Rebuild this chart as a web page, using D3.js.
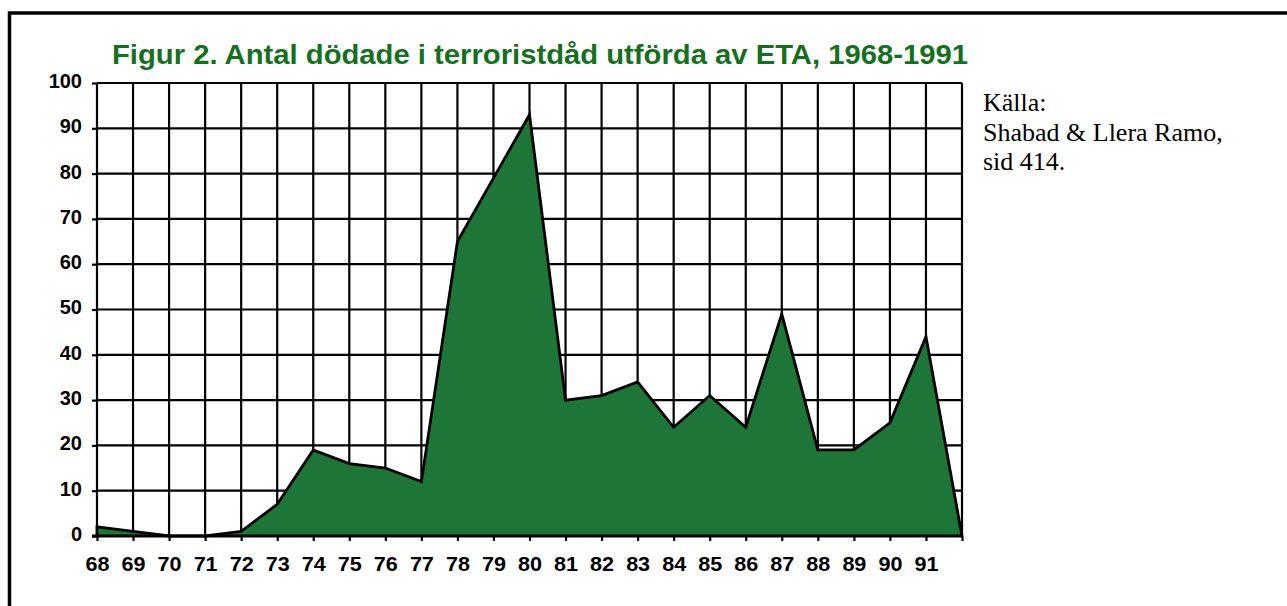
<!DOCTYPE html>
<html><head><meta charset="utf-8">
<script src="https://cdn.jsdelivr.net/npm/d3@7"></script>
<style>body{margin:0;background:#fff;} svg{display:block;}</style>
</head><body>
<svg id="c" width="1287" height="606"></svg>
<script>
const years = [68,69,70,71,72,73,74,75,76,77,78,79,80,81,82,83,84,85,86,87,88,89,90,91,92];
const deaths = [2,1,0,0,1,7,19,16,15,12,65,79,93,30,31,34,24,31,24,49,19,19,25,44,0];
const xTickLabels = ["68","69","70","71","72","73","74","75","76","77","78","79","80","81","82","83","84","85","86","87","88","89","90","91"];
const yTicks = [0,10,20,30,40,50,60,70,80,90,100];
const title = "Figur 2. Antal dödade i terroristdåd utförda av ETA, 1968-1991";
const sourceLines = ["Källa:", "Shabad & Llera Ramo,", "sid 414."];

const svg = d3.select("#c");
const x = d3.scaleLinear().domain([68,92]).range([97,962]);
const y = d3.scaleLinear().domain([0,100]).range([536,83]);
const sans = "Arial, 'Liberation Sans', sans-serif";

// frame
svg.append("path").attr("d","M9.5,606 V13 H1287").attr("fill","none").attr("stroke","#000").attr("stroke-width",3.5);

// grid
const g = svg.append("g");
g.selectAll(".hg").data(yTicks.slice(1)).join("line")
  .attr("x1",x(68)).attr("x2",x(92)).attr("y1",d=>y(d)).attr("y2",d=>y(d))
  .attr("stroke","#000").attr("stroke-width",2.2);
g.selectAll(".vg").data(years).join("line")
  .attr("x1",d=>x(d)).attr("x2",d=>x(d)).attr("y1",y(0)).attr("y2",y(100))
  .attr("stroke","#000").attr("stroke-width",2.2);

// area
const area = d3.area().x((d,i)=>x(years[i])).y0(y(0)).y1(d=>y(d));
const line = d3.line().x((d,i)=>x(years[i])).y(d=>y(d));
svg.append("path").datum(deaths).attr("d",area).attr("fill","#1d7537");
svg.append("path").datum(deaths)
  .attr("d", "M"+x(68)+","+y(0)+"L"+line(deaths).slice(1))
  .attr("fill","none").attr("stroke","#000").attr("stroke-width",2.8).attr("stroke-linejoin","miter");

// axes
const yAxis = d3.axisLeft(y).tickValues(yTicks).tickSize(5).tickPadding(10).tickFormat(d3.format("d"));
const ya = svg.append("g").attr("transform",`translate(${x(68)},0)`).call(yAxis);
ya.select(".domain").remove();
ya.selectAll(".tick line").attr("stroke","#000").attr("stroke-width",2.2);
ya.selectAll("text").attr("font-family",sans).attr("font-weight","bold").attr("font-size",20).attr("fill","#000").attr("dy","0.22em");

const xAxis = d3.axisBottom(x).tickValues(years).tickSize(5).tickPadding(15.5).tickFormat((d,i)=> xTickLabels[i] || "");
const xa = svg.append("g").attr("transform",`translate(0,${y(0)})`).call(xAxis);
xa.select(".domain").attr("d",`M${x(68)-5},0H${x(92)}`).attr("stroke","#000").attr("stroke-width",3);
xa.selectAll(".tick line").attr("stroke","#000").attr("stroke-width",2.2);
xa.selectAll("text").attr("font-family",sans).attr("font-weight","bold").attr("font-size",20).attr("fill","#000")
  .attr("textLength", function(){ return this.textContent ? 24 : null; }).attr("lengthAdjust","spacingAndGlyphs");

// title
svg.append("text").attr("x",540).attr("y",64).attr("text-anchor","middle")
  .attr("font-family",sans).attr("font-weight","bold").attr("font-size",27)
  .attr("textLength",856).attr("lengthAdjust","spacingAndGlyphs")
  .attr("fill","#15701e").text(title);

// source
svg.append("g").selectAll("text").data(sourceLines).join("text")
  .attr("x",983).attr("y",(d,i)=>111+i*29.6)
  .attr("font-family","'Times New Roman', 'Liberation Serif', serif").attr("font-size",26).attr("fill","#000")
  .text(d=>d);
</script>
</body></html>
